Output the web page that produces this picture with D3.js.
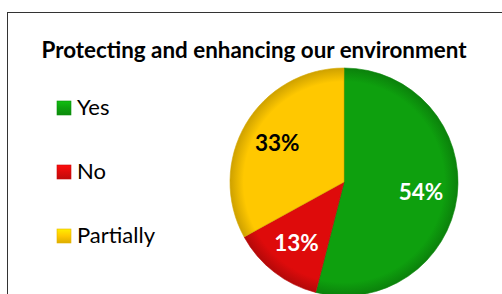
<!DOCTYPE html>
<html>
<head>
<meta charset="utf-8">
<script src="https://cdn.jsdelivr.net/npm/d3@7"></script>
<style>
  html, body { margin: 0; padding: 0; background: #fff; }
  svg { display: block; }
</style>
</head>
<body>
<div id="chart"></div>
<script>
const categories = ["Yes", "No", "Partially"];
const values = [54, 13, 33];
const colors = ["#0ea00e", "#de0b0b", "#ffc800"];
const labelColors = ["#fff", "#fff", "#000"];

const W = 502, H = 294;
const font = "Lato, 'Open Sans', sans-serif";

const svg = d3.select("#chart").append("svg")
  .attr("width", W)
  .attr("height", H);

// frame of the chart area (runs past the right/bottom edges)
svg.append("rect")
  .attr("x", 7.5).attr("y", 12.5)
  .attr("width", 520).attr("height", 320)
  .attr("fill", "#fff")
  .attr("stroke", "#333")
  .attr("stroke-width", 1);

svg.append("text")
  .attr("x", 254).attr("y", 58)
  .attr("text-anchor", "middle")
  .attr("font-family", font)
  .attr("font-weight", "bold")
  .attr("font-size", 22.4)
  .attr("fill", "#000")
  .text("Protecting and enhancing our environment");

const defs = svg.append("defs");
colors.forEach((c, i) => {
  const g = defs.append("radialGradient")
    .attr("id", "grad" + i)
    .attr("gradientUnits", "userSpaceOnUse")
    .attr("cx", 0).attr("cy", 0).attr("r", 114);
  g.append("stop").attr("offset", "0%").attr("stop-color", c);
  g.append("stop").attr("offset", "88%").attr("stop-color", c);
  g.append("stop").attr("offset", "100%").attr("stop-color", d3.color(c).darker(0.6));
  const lg = defs.append("linearGradient")
    .attr("id", "leg" + i)
    .attr("x1", 0).attr("y1", 0).attr("x2", 0).attr("y2", 1);
  lg.append("stop").attr("offset", "0%").attr("stop-color", d3.color(c).brighter(0.5));
  lg.append("stop").attr("offset", "50%").attr("stop-color", c);
  lg.append("stop").attr("offset", "100%").attr("stop-color", d3.color(c).darker(0.4));
});

const cx = 344, cy = 182, r = 114;
const pie = d3.pie().sort(null).value(d => d)(values);
const arc = d3.arc().innerRadius(0).outerRadius(r);
const labelArc = d3.arc().innerRadius(r * 0.68).outerRadius(r * 0.68);

const g = svg.append("g").attr("transform", `translate(${cx},${cy})`);

g.selectAll("path.slice")
  .data(pie)
  .join("path")
  .attr("class", "slice")
  .attr("d", arc)
  .attr("fill", (d, i) => `url(#grad${i})`)
  .attr("stroke", (d, i) => d3.color(colors[i]).darker(0.5))
  .attr("stroke-width", 0.6);

g.selectAll("text.pct")
  .data(pie)
  .join("text")
  .attr("class", "pct")
  .attr("transform", d => `translate(${labelArc.centroid(d)})`)
  .attr("text-anchor", "middle")
  .attr("dy", "0.36em")
  .attr("font-family", font)
  .attr("font-weight", "bold")
  .attr("font-size", 22.5)
  .attr("fill", (d, i) => labelColors[i])
  .text(d => d.data + "%");

const y = d3.scalePoint().domain(categories).range([108, 236]);
const legend = svg.append("g");
const item = legend.selectAll("g")
  .data(categories)
  .join("g")
  .attr("transform", d => `translate(57,${y(d)})`);
item.append("rect")
  .attr("x", 0).attr("y", -7)
  .attr("width", 14).attr("height", 14)
  .attr("fill", (d, i) => `url(#leg${i})`)
  .attr("stroke", (d, i) => d3.color(colors[i]).darker(0.3))
  .attr("stroke-width", 0.6);
item.append("text")
  .attr("x", 20).attr("y", 7)
  .attr("font-family", font)
  .attr("font-size", 22)
  .attr("fill", "#000")
  .text(d => d);
</script>
</body>
</html>
